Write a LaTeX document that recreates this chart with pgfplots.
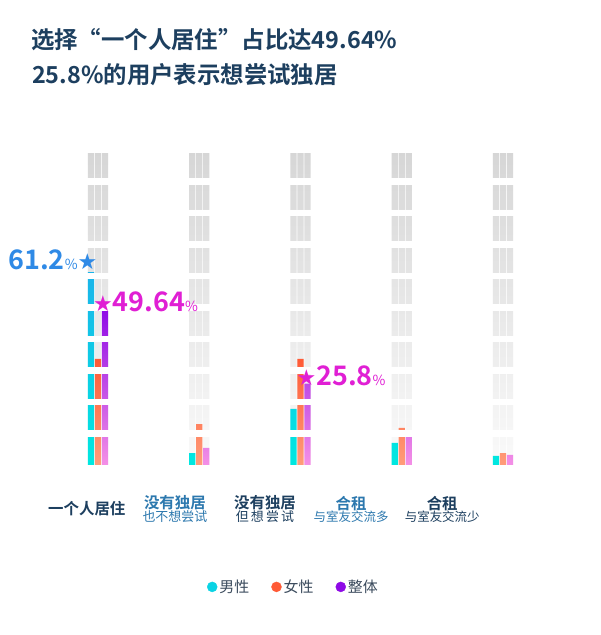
\documentclass[border=0pt]{standalone}
\usepackage{pgfplots}
\pgfplotsset{compat=1.18}
\usepackage{fontspec}
\setmainfont{Noto Sans CJK SC}[BoldFont={Noto Sans CJK SC Bold}]
\newfontfamily\symfont{DejaVu Sans}
\definecolor{navy}{HTML}{1D3F5F}
\definecolor{labblue}{HTML}{2C78AE}
\definecolor{cyanT}{HTML}{1AB4EA}
\definecolor{cyanB}{HTML}{00E8E0}
\definecolor{orT}{HTML}{FF5A36}
\definecolor{orB}{HTML}{FF9C7A}
\definecolor{puT}{HTML}{8E0AE6}
\definecolor{puB}{HTML}{F490E6}
\definecolor{bluelab}{HTML}{2F8AE6}
\definecolor{maglab}{HTML}{E01FD4}
\definecolor{legtext}{HTML}{3A4A5C}
\pgfplotsset{
  basegeom/.style={
    at={(2bp,170bp)}, anchor=south west, scale only axis,
    width=587.25bp, height=315bp,
    xmin=-0.9, xmax=4.9, ymin=0, ymax=100, clip=false},
}
\tikzset{numlab/.style={font=\bfseries\fontsize{27}{28}\selectfont}}
\newcommand{\pct}{{\mdseries\fontsize{14}{15}\selectfont\%}}
\newcommand{\st}{{\symfont\fontsize{22}{22}\selectfont★}}
\begin{document}
\begin{tikzpicture}[x=1bp,y=1bp]
\fill[white] (0,0) rectangle (596,635);
\node[anchor=west, inner sep=0pt, font=\bfseries\fontsize{23.5}{26}\selectfont, text=navy] at (26,595) {选择“一个人居住”占比达49.64\%};
\node[anchor=west, inner sep=0pt, font=\bfseries\fontsize{23.5}{26}\selectfont, text=navy] at (27,560) {25.8\%的用户表示想尝试独居};
\begin{axis}[
  basegeom,
  axis on top,
  axis line style={draw=none}, tick style={draw=none},
  ytick={10,20,...,90}, yticklabels={},
  ymajorgrids, major grid style={white, line width=6.5bp},
  xtick={-0.11,0.76,1.65,2.5,3.4},
  xticklabels={
    {\bfseries\fontsize{15.5}{18}\selectfont\color{navy}一个人居住},
    {\bfseries\fontsize{15.5}{18}\selectfont\color{labblue}没有独居\\[-1pt]\mdseries\fontsize{13}{16}\selectfont\color{labblue}也不想尝试},
    {\bfseries\fontsize{15.5}{18}\selectfont\color{navy}没有独居\\[-1pt]\mdseries\fontsize{13}{16}\selectfont\color{navy}但\,想\,尝\,试},
    {\bfseries\fontsize{15.5}{18}\selectfont\color{labblue}合租\\[-1pt]\mdseries\fontsize{12.5}{16}\selectfont\color{labblue}与室友交流多},
    {\bfseries\fontsize{15.5}{18}\selectfont\color{navy}合租\\[-1pt]\mdseries\fontsize{12.5}{16}\selectfont\color{navy}与室友交流少}},
  xticklabel style={align=center, anchor=center, yshift=-44bp},
  legend style={at={(0.488,-0.387)}, anchor=center, draw=none, fill=none,
    legend columns=3, font=\fontsize{15}{17}\selectfont, text=legtext,
    /tikz/every even column/.append style={column sep=20bp}},
  legend cell align=left,
]
% grey background columns
\addplot[ybar, bar width=6.3bp, bar shift=-7bp, draw=none, top color=gray!32, bottom color=gray!4, forget plot] coordinates {(0,99)(1,99)(2,99)(3,99)(4,99)};
\addplot[ybar, bar width=6.3bp, bar shift=0bp, draw=none, top color=gray!32, bottom color=gray!4, forget plot] coordinates {(0,99)(1,99)(2,99)(3,99)(4,99)};
\addplot[ybar, bar width=6.3bp, bar shift=7bp, draw=none, top color=gray!32, bottom color=gray!4, forget plot] coordinates {(0,99)(1,99)(2,99)(3,99)(4,99)};
% 男性
\addplot[ybar, bar width=6.3bp, bar shift=-7bp, draw=none, top color=cyanT, bottom color=cyanB, forget plot] coordinates {(0,61.2)(1,3.8)(2,17.8)(3,7.0)(4,2.9)};
% 女性
\addplot[ybar, bar width=6.3bp, bar shift=0bp, draw=none, top color=orT, bottom color=orB, forget plot] coordinates {(0,33.7)(1,13.0)(2,33.7)(3,11.8)(4,3.8)};
% 整体
\addplot[ybar, bar width=6.3bp, bar shift=7bp, draw=none, top color=puT, bottom color=puB, forget plot] coordinates {(0,49.64)(1,5.4)(2,25.8)(3,10.6)(4,3.2)};
\addlegendimage{legend image code/.code={\fill[cyanT!40!cyanB] (0bp,0bp) circle (5bp);}}
\addlegendentry{男性}
\addlegendimage{legend image code/.code={\fill[orT] (0bp,0bp) circle (5bp);}}
\addlegendentry{女性}
\addlegendimage{legend image code/.code={\fill[puT] (0bp,0bp) circle (5bp);}}
\addlegendentry{整体}
\end{axis}
% overlay axis for the value labels, same geometry
\begin{axis}[basegeom, hide axis, /pgf/number format/assume math mode=true]
\addplot[draw=none, mark=none, point meta=y,
  nodes near coords={{\pgfmathprintnumber{\pgfplotspointmeta}}\pct\st},
  every node near coord/.style={numlab, anchor=east, inner sep=0pt, text=bluelab, xshift=-0.5bp, yshift=12bp}] coordinates {(0,61.2)};
\addplot[draw=none, mark=none, point meta=y,
  nodes near coords={\st{\pgfmathprintnumber{\pgfplotspointmeta}}\pct},
  every node near coord/.style={numlab, anchor=west, inner sep=0pt, text=maglab, xshift=-5bp, yshift=7bp}] coordinates {(0,49.64)};
\addplot[draw=none, mark=none, point meta=y,
  nodes near coords={\st{\pgfmathprintnumber{\pgfplotspointmeta}}\pct},
  every node near coord/.style={numlab, anchor=west, inner sep=0pt, text=maglab, xshift=-4bp, yshift=8bp}] coordinates {(2,25.8)};
\end{axis}
\end{tikzpicture}
\end{document}
